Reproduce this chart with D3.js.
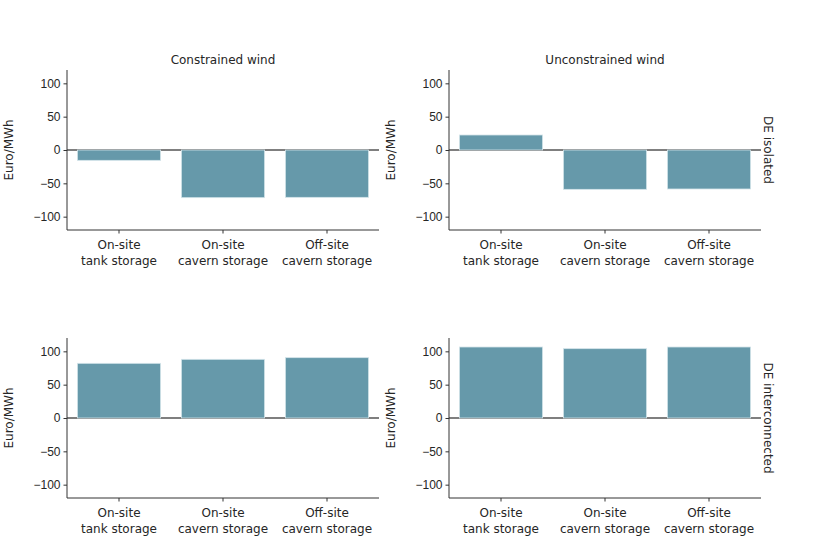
<!DOCTYPE html>
<html>
<head>
<meta charset="utf-8">
<script src="https://cdn.jsdelivr.net/npm/d3@7"></script>
<style>
  body { margin: 0; background: #fff; }
  svg { font-family: "DejaVu Sans", sans-serif; }
</style>
</head>
<body>
<svg id="chart" width="830" height="554"></svg>
<script>
// categories and panel names
const storageTypes = ["On-site\ntank storage", "On-site\ncavern storage", "Off-site\ncavern storage"]
const windCases = ["Constrained wind", "Unconstrained wind"]
const gridCases = ["DE isolated", "DE interconnected"]
const yTicks = [-100, -50, 0, 50, 100]

// values in Euro/MWh
const isolatedConstrained = [-15.5, -71.5, -71]
const isolatedUnconstrained = [22.5, -59, -58.5]
const interconnConstrained = [82, 88, 90.5]
const interconnUnconstrained = [106.5, 104, 106.5]

const panels = [
  { row: 0, col: 0, values: isolatedConstrained },
  { row: 0, col: 1, values: isolatedUnconstrained },
  { row: 1, col: 0, values: interconnConstrained },
  { row: 1, col: 1, values: interconnUnconstrained }
]

const svg = d3.select('#chart')
const colX = [67, 449]
const rowY = [70, 338]
const pw = 312, ph = 160
const barColor = "#6699aa"
const axisColor = "#333"
const textColor = "#262626"
const fs = '12px'

panels.forEach(p => {
  const g = svg.append('g')
    .attr('transform', `translate(${colX[p.col]},${rowY[p.row]})`)

  const x = d3.scaleBand()
    .domain(storageTypes)
    .range([0, pw])
    .paddingInner(0.2)
    .paddingOuter(0.1)
  const y = d3.scaleLinear().domain([-120, 120]).range([ph, 0])

  // zero line
  g.append('line')
    .attr('x1', 0).attr('x2', pw)
    .attr('y1', y(0)).attr('y2', y(0))
    .attr('stroke', '#555').attr('stroke-width', 1.4)

  g.selectAll('rect.bar')
    .data(p.values)
    .enter()
    .append('rect')
    .classed('bar', true)
    .attr('x', (d, i) => x(storageTypes[i]))
    .attr('y', d => y(Math.max(0, d)))
    .attr('width', x.bandwidth())
    .attr('height', d => Math.abs(y(d) - y(0)))
    .attr('fill', barColor)
    .attr('stroke', '#d4e4e9')
    .attr('stroke-width', 0.8)

  // y axis
  const ya = g.append('g')
    .call(d3.axisLeft(y).tickValues(yTicks).tickSize(3.5).tickPadding(3)
      .tickFormat(d => d < 0 ? '\u2212' + Math.abs(d) : d))
  ya.select('.domain').attr('stroke', axisColor).attr('d', `M0,0V${ph}`)
  ya.selectAll('.tick line').attr('stroke', axisColor)
  ya.selectAll('.tick text').attr('fill', textColor).style('font-size', fs)

  // x axis
  const xa = g.append('g')
    .attr('transform', `translate(0,${ph})`)
    .call(d3.axisBottom(x).tickSize(3.5).tickFormat(''))
  xa.select('.domain').attr('stroke', axisColor).attr('d', `M0,0H${pw}`)
  xa.selectAll('.tick line').attr('stroke', axisColor)

  storageTypes.forEach(cat => {
    const lines = cat.split('\n')
    const t = g.append('text')
      .attr('x', x(cat) + x.bandwidth() / 2)
      .attr('y', ph + 18.5)
      .attr('text-anchor', 'middle')
      .attr('fill', textColor)
      .style('font-size', fs)
    lines.forEach((l, i) => {
      t.append('tspan')
        .attr('x', x(cat) + x.bandwidth() / 2)
        .attr('dy', i === 0 ? 0 : 16.5)
        .text(l)
    })
  })

  // y label
  g.append('text')
    .attr('transform', `translate(${-54},${ph / 2}) rotate(-90)`)
    .attr('text-anchor', 'middle')
    .attr('fill', textColor)
    .style('font-size', fs)
    .text('Euro/MWh')

  if (p.row === 0) {
    g.append('text')
      .attr('x', pw / 2).attr('y', -6)
      .attr('text-anchor', 'middle')
      .attr('fill', textColor)
      .style('font-size', fs)
      .text(windCases[p.col])
  }
  if (p.col === 1) {
    g.append('text')
      .attr('transform', `translate(${pw + 3},${ph / 2}) rotate(90)`)
      .attr('text-anchor', 'middle')
      .attr('fill', textColor)
      .style('font-size', fs)
      .text(gridCases[p.row])
  }
})
</script>
</body>
</html>
